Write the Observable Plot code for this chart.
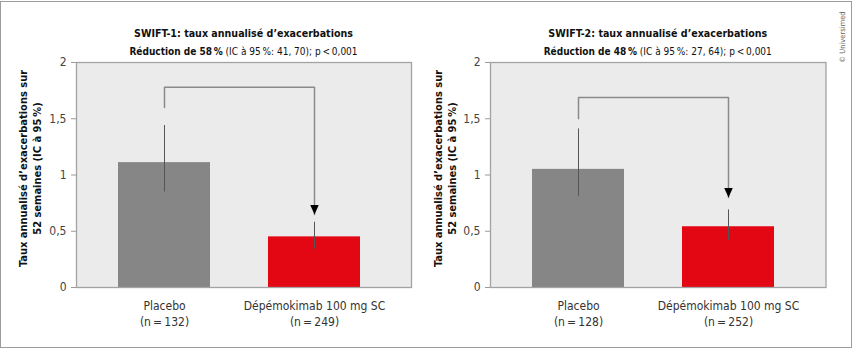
<!DOCTYPE html>
<html>
<head>
<meta charset="utf-8">
<script src="https://cdn.jsdelivr.net/npm/d3@7"></script>
<script src="https://cdn.jsdelivr.net/npm/@observablehq/plot@0.6"></script>
<style>
  html, body { margin: 0; padding: 0; background: #fff; }
  #wrap { position: relative; width: 854px; height: 350px; overflow: hidden;
          font-family: "Liberation Sans Narrow", "DejaVu Sans Condensed", "Roboto", sans-serif; }
  #border { position: absolute; left: 0; top: 1px; width: 852px; height: 347px;
            box-sizing: border-box; border: 1.5px solid #9c9c9c; }
  .panel { position: absolute; top: 0; }
  .title { position: absolute; text-align: center; font-weight: bold; font-size: 10.6px;
           color: #111; line-height: 14px; white-space: nowrap; }
  .sub { font-weight: normal; font-size: 10px; }
  .sub b { font-weight: bold; }
  #copy { position: absolute; left: 842px; top: 37px; transform: translate(-50%, -50%) rotate(-90deg);
          font-size: 7.5px; color: #666; white-space: nowrap; }
</style>
</head>
<body>
<div id="wrap">
  <div id="border"></div>
  <div id="copy">© Universimed</div>
</div>
<script>
// ---- Data ----
const categories = ["Placebo", "Dépémokimab 100 mg SC"];
const barColors = ["#868686", "#e30613"];

const swift1N = [132, 249];
const swift1Rate = [1.11, 0.45];
const swift1Low = [0.85, 0.34];
const swift1High = [1.44, 0.58];

const swift2N = [128, 252];
const swift2Rate = [1.05, 0.54];
const swift2Low = [0.81, 0.42];
const swift2High = [1.41, 0.69];

// bracket (comparison arrow): start of left leg, top, arrow tip
const bracketStart = [1.60, 1.50];
const bracketTop = [1.78, 1.69];
const arrowTip = [0.65, 0.80];

const yTicks = [0, 0.5, 1, 1.5, 2];
const yTickLabels = ["0", "0,5", "1", "1,5", "2"];

const titles = ["SWIFT-1: taux annualisé d’exacerbations", "SWIFT-2: taux annualisé d’exacerbations"];
const reductions = ["58", "48"];
const ciTexts = ["41, 70", "27, 64"];
const pTexts = ["0,001", "0,001"];
const yLabel = "Taux annualisé d’exacerbations sur\n52 semaines (IC à 95\u2009%)";

const FONT = "'Liberation Sans Narrow', 'DejaVu Sans Condensed', Roboto, sans-serif";

// downward filled triangle with its tip at the point
const arrowHead = {
  draw(ctx) {
    const w = 8.5, h = 9.5;
    ctx.moveTo(-w / 2, -h);
    ctx.lineTo(w / 2, -h);
    ctx.lineTo(0, 0);
    ctx.closePath();
  }
};

function panel(k, left, width, marginLeft, marginRight, labelDx) {
  const N = k === 0 ? swift1N : swift2N;
  const R = k === 0 ? swift1Rate : swift2Rate;
  const L = k === 0 ? swift1Low : swift2Low;
  const H = k === 0 ? swift1High : swift2High;
  const data = categories.map((c, i) => ({cat: c, n: N[i], rate: R[i], low: L[i], high: H[i]}));
  const nOf = new Map(data.map(d => [d.cat, d.n]));
  const bracket = [
    {cat: categories[0], v: bracketStart[k]},
    {cat: categories[0], v: bracketTop[k]},
    {cat: categories[1], v: bracketTop[k]},
    {cat: categories[1], v: arrowTip[k]}
  ];
  const yTickLabel = new Map(yTicks.map((t, i) => [t, yTickLabels[i]]));

  const chart = Plot.plot({
    width, height: 350,
    marginTop: 62, marginBottom: 63, marginLeft, marginRight,
    style: {fontFamily: FONT, fontSize: "12px", background: "transparent", overflow: "visible"},
    x: {domain: categories, paddingInner: 0.385, paddingOuter: 0.304, align: 0.455, label: null},
    y: {domain: [0, 2], label: null},
    color: {domain: categories, range: barColors},
    marks: [
      Plot.frame({fill: "#ebebeb", stroke: null}),
      Plot.barY(data, {x: "cat", y: "rate", fill: "cat"}),
      Plot.ruleX(data, {x: "cat", y1: "low", y2: "high", stroke: "#555", strokeWidth: 1}),
      Plot.line(bracket, {x: "cat", y: "v", stroke: "#8a8a8a", strokeWidth: 1.5}),
      Plot.dot([{cat: categories[1], v: arrowTip[k]}], {x: "cat", y: "v", symbol: arrowHead, fill: "#000", stroke: null, r: 5}),
      Plot.frame({stroke: "#a3a3a3", strokeWidth: 1.3}),
      Plot.axisY({ticks: yTicks, tickSize: 5, tickFormat: () => "", color: "#9a9a9a"}),
      Plot.axisY({ticks: yTicks, tickSize: 0, tickPadding: 10, tickFormat: d => yTickLabel.get(d), color: "#444", fontSize: 12}),
      Plot.axisX({tickSize: 0, tickPadding: 11, lineHeight: 1.35, color: "#333", fontSize: 12,
                  tickFormat: d => d + "\n(n\u2009=\u2009" + nOf.get(d) + ")"}),
      Plot.text([yLabel], {text: d => d, frameAnchor: "left", textAnchor: "middle", lineAnchor: "middle",
                           rotate: -90, dx: labelDx, dy: -6.5,
                           fontWeight: "bold", fontSize: 11, lineHeight: 1.3, fill: "#111"})
    ]
  });

  const div = document.createElement("div");
  div.className = "panel";
  div.style.left = left + "px";
  div.appendChild(chart);

  const plotLeft = marginLeft, plotW = width - marginLeft - marginRight;
  const t = document.createElement("div");
  t.className = "title";
  t.style.left = plotLeft + "px"; t.style.width = plotW + "px"; t.style.top = "26px";
  t.textContent = titles[k];
  div.appendChild(t);

  const s = document.createElement("div");
  s.className = "title sub";
  s.style.left = plotLeft + "px"; s.style.width = plotW + "px"; s.style.top = "45px";
  s.innerHTML = "<b>Réduction de " + reductions[k] + "\u2009%</b> (IC à 95\u2009%: " + ciTexts[k] + "); p\u2009&lt;\u2009" + pTexts[k];
  div.appendChild(s);

  document.getElementById("wrap").appendChild(div);
}

panel(0, 0, 430, 76, 19, -47);
panel(1, 430, 424, 60, 28.5, -46);
</script>
</body>
</html>
